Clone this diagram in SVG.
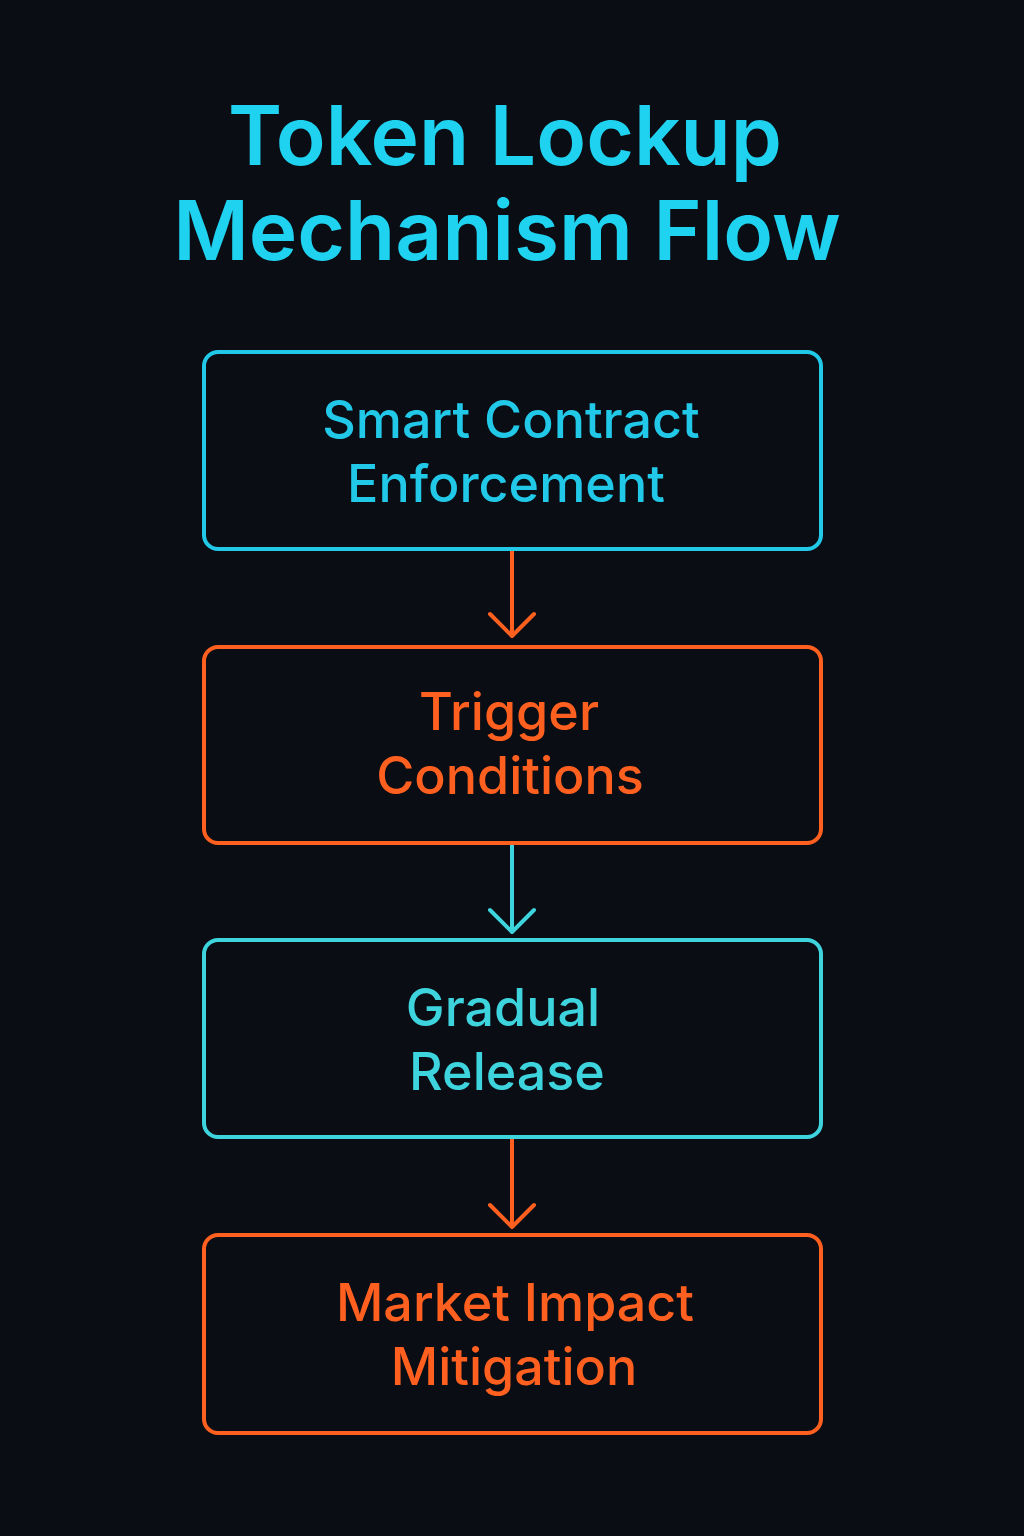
<svg xmlns="http://www.w3.org/2000/svg" width="1024" height="1536" viewBox="0 0 1024 1536">
<style>
.t{font-family:Inter,"Liberation Sans",sans-serif;text-anchor:middle}
.title{font-size:82px;font-weight:600;fill:#1ed2f0}
.lbl{font-size:52px;font-weight:500}
.box{fill:none;stroke-width:4}
.c{stroke:#22c8e8}.o{stroke:#ff6020}.tl{stroke:#3ed4de}
</style>
<rect width="1024" height="1536" fill="#0a0d14"/>
<text class="t title" x="505" y="165">Token Lockup</text>
<text class="t title" x="507" y="260">Mechanism Flow</text>
<g id="connectors" fill="none" stroke-width="4" stroke-linecap="round" stroke-linejoin="round">
<path d="M512 551V636M490 614L512 636L534 614" stroke="#ff6020"/>
<path d="M512 845V932M490 910L512 932L534 910" stroke="#3ed4de"/>
<path d="M512 1139V1227M490 1205L512 1227L534 1205" stroke="#ff6020"/>
</g>
<g id="n1"><rect class="box c" x="204" y="352" width="617" height="197" rx="14"/>
<text class="t lbl" x="511" y="438" fill="#22c8e8">Smart Contract</text>
<text class="t lbl" x="506" y="502" fill="#22c8e8">Enforcement</text></g>
<g id="n2"><rect class="box o" x="204" y="647" width="617" height="196" rx="14"/>
<text class="t lbl" x="509" y="730" fill="#ff6020">Trigger</text>
<text class="t lbl" x="510" y="794" fill="#ff6020">Conditions</text></g>
<g id="n3"><rect class="box tl" x="204" y="940" width="617" height="197" rx="14"/>
<text class="t lbl" x="503" y="1026" fill="#3ed4de">Gradual</text>
<text class="t lbl" x="507" y="1090" fill="#3ed4de">Release</text></g>
<g id="n4"><rect class="box o" x="204" y="1235" width="617" height="198" rx="14"/>
<text class="t lbl" x="515" y="1321" fill="#ff6020">Market Impact</text>
<text class="t lbl" x="514" y="1385" fill="#ff6020">Mitigation</text></g>
</svg>
